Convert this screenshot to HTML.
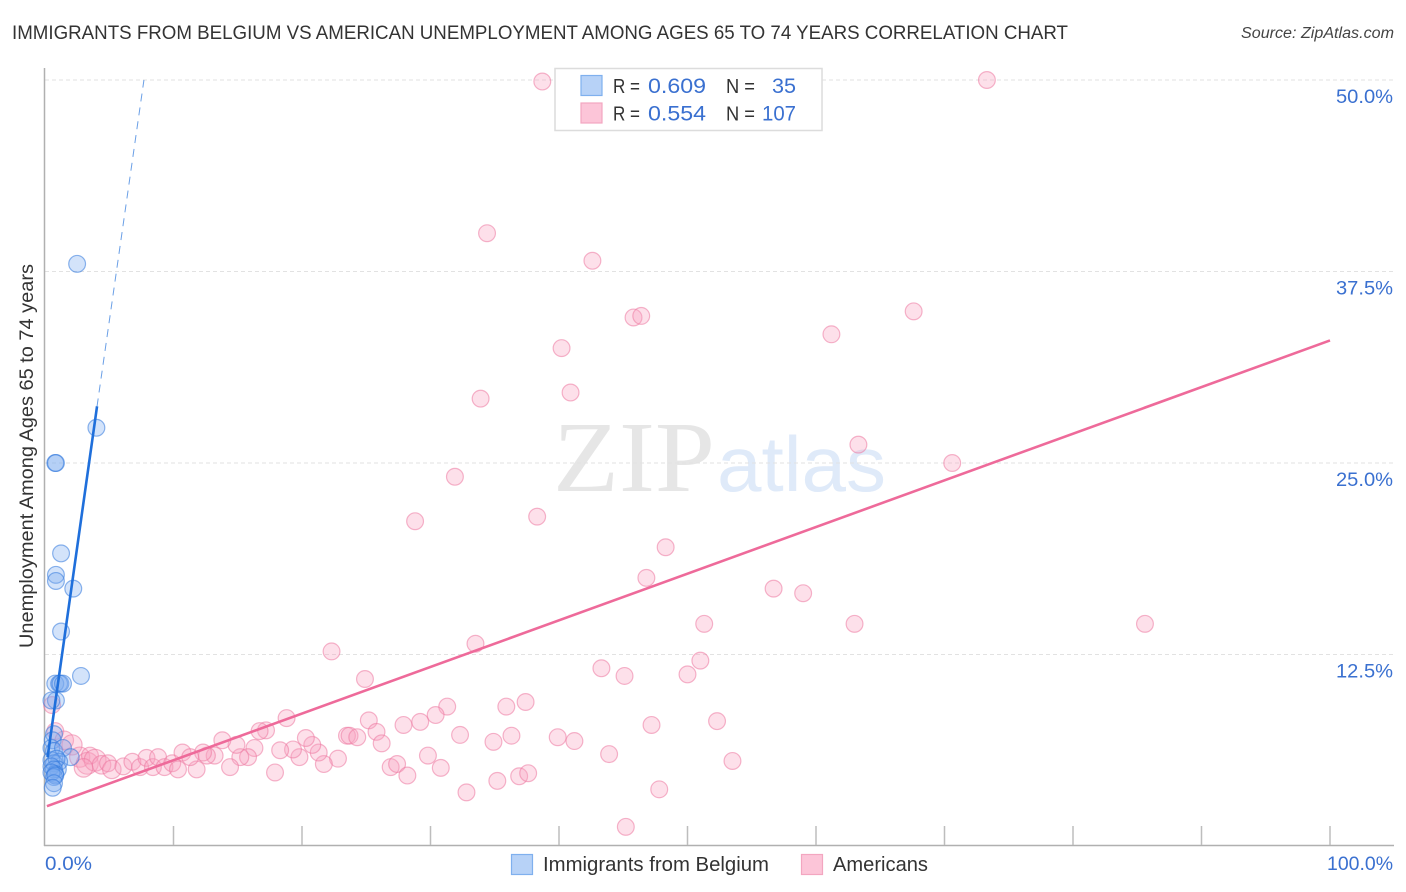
<!DOCTYPE html>
<html lang="en">
<head>
<meta charset="utf-8">
<title>Immigrants from Belgium vs American Unemployment Correlation Chart</title>
<style>
html,body{margin:0;padding:0;background:#fff;width:1406px;height:892px;overflow:hidden}
svg{display:block;font-family:"Liberation Sans",sans-serif}
</style>
</head>
<body>
<svg id="chart" width="1406" height="892" viewBox="0 0 1406 892" xmlns="http://www.w3.org/2000/svg">
  <text x="12" y="39" font-size="19" fill="#333" textLength="1056" lengthAdjust="spacingAndGlyphs">IMMIGRANTS FROM BELGIUM VS AMERICAN UNEMPLOYMENT AMONG AGES 65 TO 74 YEARS CORRELATION CHART</text>
  <text x="1241" y="38" font-size="15.500" font-style="italic" fill="#444" textLength="153" lengthAdjust="spacingAndGlyphs">Source: ZipAtlas.com</text>
  <text x="553" y="491" font-size="101" font-family="'Liberation Serif',serif" fill="#e6e6e6" textLength="162" lengthAdjust="spacingAndGlyphs">ZIP</text>
  <text x="717" y="491" font-size="78" fill="#dfeaf9" textLength="169" lengthAdjust="spacingAndGlyphs">atlas</text>
  <g id="grid"></g>
  <g id="axes"></g>
  <g id="pink-points"></g>
  <g id="blue-points"></g>
  <g id="trends"></g>
  <text transform="translate(33,456) rotate(-90)" font-size="19" fill="#333" text-anchor="middle" textLength="384" lengthAdjust="spacingAndGlyphs">Unemployment Among Ages 65 to 74 years</text>
  <g>
    <rect x="555" y="68.5" width="267" height="62" fill="#fff" stroke="#dcdcdc" stroke-width="1.5"/>
    <rect x="581" y="75.5" width="21" height="20" fill="#b7d2f7" stroke="#7fb0ee" stroke-width="1.2"/>
    <rect x="581" y="103" width="21" height="20" fill="#fcc5d8" stroke="#f3a6c0" stroke-width="1.2"/>
    <text x="613" y="93" font-size="20" fill="#333" textLength="27" lengthAdjust="spacingAndGlyphs">R =</text>
    <text x="648" y="93" font-size="21" fill="#3a70d0" textLength="58" lengthAdjust="spacingAndGlyphs">0.609</text>
    <text x="726" y="93" font-size="20" fill="#333" textLength="29" lengthAdjust="spacingAndGlyphs">N =</text>
    <text x="772" y="93" font-size="21" fill="#3a70d0" textLength="24" lengthAdjust="spacingAndGlyphs">35</text>
    <text x="613" y="120.500" font-size="20" fill="#333" textLength="27" lengthAdjust="spacingAndGlyphs">R =</text>
    <text x="648" y="120.500" font-size="21" fill="#3a70d0" textLength="58" lengthAdjust="spacingAndGlyphs">0.554</text>
    <text x="726" y="120.500" font-size="20" fill="#333" textLength="29" lengthAdjust="spacingAndGlyphs">N =</text>
    <text x="762" y="120.500" font-size="21" fill="#3a70d0" textLength="34" lengthAdjust="spacingAndGlyphs">107</text>
  </g>
  <g>
    <rect x="511.500" y="854.500" width="21" height="20" fill="#b7d2f7" stroke="#7fb0ee" stroke-width="1.2"/>
    <text x="543" y="871" font-size="20" fill="#333" textLength="226" lengthAdjust="spacingAndGlyphs">Immigrants from Belgium</text>
    <rect x="801.500" y="854.500" width="21" height="20" fill="#fcc5d8" stroke="#f3a6c0" stroke-width="1.2"/>
    <text x="833" y="871" font-size="20" fill="#333" textLength="95" lengthAdjust="spacingAndGlyphs">Americans</text>
  </g>
</svg>
<script>
var yTicks = [12.5, 25, 37.5, 50];
var yTickLabels = ['12.5%', '25.0%', '37.5%', '50.0%'];
var xTicks = [10, 20, 30, 40, 50, 60, 70, 80, 90, 100];
var xEndTicks = [0, 100];
var xEndLabels = ['0.0%', '100.0%'];

var belgiumX = [2.5,4.0,0.8,0.85,1.25,0.85,0.85,2.2,1.25,2.8,0.8,1.1,1.2,1.4,0.85,0.5,0.7,0.6,0.5,0.7,1.4,2.0,1.1,0.5,0.7,0.9,1.0,0.5,0.7,0.8,0.5,0.7,0.8,0.7,0.6];
var belgiumY = [38.0,27.3,25.0,25.0,19.1,17.7,17.3,16.8,14.0,11.1,10.6,10.6,10.6,10.6,9.5,9.5,7.3,6.9,6.4,6.2,6.4,5.8,5.5,5.6,5.4,5.7,5.0,5.2,5.0,4.7,4.8,4.5,4.6,4.1,3.8];

var americansX = [38.7,73.3,34.4,42.6,45.8,46.4,67.6,61.2,40.2,40.9,33.9,63.3,70.6,31.9,28.8,38.3,48.3,46.8,56.7,59.0,51.3,63.0,85.6,22.3,33.5,51.0,43.3,45.1,50.0,24.9,31.3,30.4,29.2,27.9,37.4,35.9,47.2,52.3,25.2,18.8,32.3,25.8,26.2,23.5,23.7,24.3,34.9,36.3,39.9,41.2,43.9,53.5,29.8,26.9,27.4,28.2,30.8,32.8,35.2,36.9,37.6,47.8,45.2,17.9,22.8,21.7,21.3,20.8,20.3,19.8,19.3,18.3,17.2,16.7,16.3,15.8,15.2,14.9,14.4,13.8,13.2,12.6,12.3,11.8,0.55,0.8,1.5,2.1,2.7,3.3,3.5,3.9,4.4,4.9,5.2,6.1,6.8,7.4,7.9,8.4,8.8,9.3,9.9,10.35,10.7,11.3,3.0];
var americansY = [49.9,50.0,40.0,38.2,34.5,34.6,34.9,33.4,32.5,29.6,29.2,26.2,25.0,24.1,21.2,21.5,19.5,17.5,16.8,16.5,14.5,14.5,14.5,12.7,13.2,12.1,11.6,11.1,11.2,10.9,9.1,8.55,8.1,7.9,9.4,9.1,7.9,8.15,8.2,8.35,7.25,7.45,6.7,7.2,7.2,7.1,6.8,7.2,7.1,6.85,6.0,5.55,5.9,5.15,5.35,4.6,5.1,3.5,4.25,4.55,4.75,3.7,1.25,4.8,5.7,5.35,6.1,6.6,7.05,5.8,6.3,6.25,7.55,7.5,6.4,5.8,5.8,6.6,5.15,6.9,5.9,5.9,6.1,5.0,9.2,7.5,6.9,6.6,5.8,5.4,5.9,5.6,5.3,5.4,5.0,5.2,5.5,5.15,5.75,5.15,5.8,5.15,5.4,5.0,6.1,5.8,5.1];
var americansWeight = [1,1,1,1,1,1,1,1,1,1,1,1,1,1,1,1,1,1,1,1,1,1,1,1,1,1,1,1,1,1,1,1,1,1,1,1,1,1,1,1,1,1,1,1,1,1,1,1,1,1,1,1,1,1,1,1,1,1,1,1,1,1,1,1,1,1,1,1,1,1,1,1,1,1,1,1,1,1,1,1,1,1,1,1,1,1,1.1,1.2,1.2,1.3,1,1.3,1.1,1,1.1,1,1,1,1,1,1,1,1,1,1,1,1.1];

var belgiumTrendX = [0.2, 4.05];
var belgiumTrendY = [5.8, 28.7];
var belgiumDashX = [4.05, 7.7];
var belgiumDashY = [28.7, 50.0];
var americansTrendX = [0.15, 100];
var americansTrendY = [2.6, 33.0];

var NS = 'http://www.w3.org/2000/svg';
function xPos(v) { return 45 + v * 12.85; }
function yPos(v) { return 846 - v * 15.32; }
function rScale(w) { return 8.4 * w; }
function make(tag, parent, attrs, text) {
  var el = document.createElementNS(NS, tag);
  for (var k in attrs) { el.setAttribute(k, attrs[k]); }
  if (text !== undefined) { el.textContent = text; }
  document.getElementById(parent).appendChild(el);
  return el;
}

yTicks.forEach(function (t, i) {
  var line = make('line', 'grid', { x1: 45, x2: 1393, y1: yPos(t), y2: yPos(t), stroke: '#e2e2e2', 'stroke-width': 1, 'stroke-dasharray': '4 3' });
  
  
  var label = make('text', 'axes', { x: 1336, y: yPos(t) + 23, 'font-size': 19, fill: '#3a70d0', textLength: 57, lengthAdjust: 'spacingAndGlyphs' }, yTickLabels[i]);
  
  
});

var yAxis = make('line', 'axes', { x1: 44.5, x2: 44.5, y1: 68, y2: 846, stroke: '#b0b0b0', 'stroke-width': 1.5 });


var xAxis = make('line', 'axes', { x1: 44, x2: 1394, y1: 845.5, y2: 845.5, stroke: '#b0b0b0', 'stroke-width': 1.5 });



xTicks.forEach(function (t) {
  var tick = make('line', 'axes', { x1: xPos(t), x2: xPos(t), y1: 826, y2: 845, stroke: '#bdbdbd', 'stroke-width': 1.5 });
  
  
});

xEndTicks.forEach(function (t, i) {
  var px = i === 0 ? xPos(t) : 1327;
  var len = i === 0 ? 47 : 66;
  var label = make('text', 'axes', { x: px, y: 870, 'font-size': 19, fill: '#3a70d0', textLength: len, lengthAdjust: 'spacingAndGlyphs' }, xEndLabels[i]);
  
  
});

americansX.forEach(function (v, i) {
  var dot = make('circle', 'pink-points', { cx: xPos(v), cy: yPos(americansY[i]), r: rScale(americansWeight[i]), fill: 'rgba(248,160,190,0.33)', stroke: 'rgba(236,120,160,0.55)', 'stroke-width': 1.2 });
  
  
});

belgiumX.forEach(function (v, i) {
  var dot = make('circle', 'blue-points', { cx: xPos(v), cy: yPos(belgiumY[i]), r: rScale(1), fill: 'rgba(120,170,240,0.33)', stroke: 'rgba(50,120,220,0.55)', 'stroke-width': 1.2 });
  
  
});

var dash = make('line', 'trends', { x1: xPos(belgiumDashX[0]), y1: yPos(belgiumDashY[0]), x2: xPos(belgiumDashX[1]), y2: yPos(belgiumDashY[1]), stroke: '#6a9fe6', 'stroke-width': 1, 'stroke-dasharray': '8 6' });


var blueTrend = make('line', 'trends', { x1: xPos(belgiumTrendX[0]), y1: yPos(belgiumTrendY[0]), x2: xPos(belgiumTrendX[1]), y2: yPos(belgiumTrendY[1]), stroke: '#1f6fdb', 'stroke-width': 2.6 });


var pinkTrend = make('line', 'trends', { x1: xPos(americansTrendX[0]), y1: yPos(americansTrendY[0]), x2: xPos(americansTrendX[1]), y2: yPos(americansTrendY[1]), stroke: '#ee6a9a', 'stroke-width': 2.6 });


</script>
</body>
</html>
